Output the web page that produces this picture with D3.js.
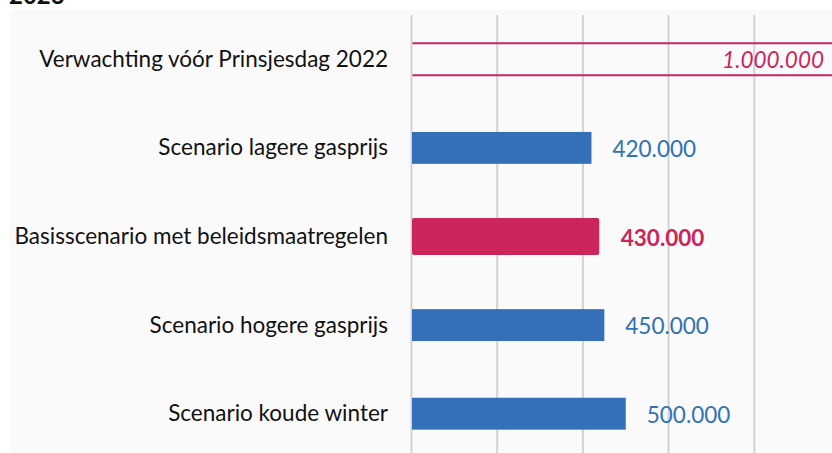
<!DOCTYPE html>
<html lang="nl">
  <head>
    <meta charset="utf-8">
    <title>Scenario's 2023</title>
    <script src="https://cdn.jsdelivr.net/npm/d3@7"></script>
    <style>
      body { margin: 0; background: #fff; }
      svg { display: block; font-family: Lato, "Open Sans", sans-serif; }
    </style>
  </head>
  <body>
    <script>
      // data
      var categories = ["Verwachting vóór Prinsjesdag 2022", "Scenario lagere gasprijs",
                        "Basisscenario met beleidsmaatregelen", "Scenario hogere gasprijs",
                        "Scenario koude winter"];
      var values = [1000000, 420000, 430000, 450000, 500000];
      var labels = ["1.000.000", "420.000", "430.000", "450.000", "500.000"];
      var kinds = ["outline", "blue", "highlight", "blue", "blue"];
      var gridTicks = [0, 200000, 400000, 600000, 800000, 1000000];

      var W = 832, H = 453;
      var blue = "#3470b7", magenta = "#cb255c";

      var svg = d3.select("body").append("svg")
                  .attr("width", W)
                  .attr("height", H);

      // panel background
      svg.append("rect")
         .attr("x", 10).attr("y", 10)
         .attr("width", W - 10).attr("height", H - 10)
         .attr("fill", "#fafafa");

      // title, cut off at the top like in the source
      svg.append("text")
         .attr("x", 9).attr("y", 4)
         .attr("font-size", 24).attr("font-weight", "bold")
         .attr("fill", "#111")
         .text("2023");

      var x = d3.scaleLinear().domain([0, 1000000]).range([411.5, 840]);
      var y = d3.scaleBand().domain(categories).range([15, 458]).paddingInner(0.64).paddingOuter(0.32);

      // gridlines
      svg.selectAll("line.grid")
         .data(gridTicks)
         .enter().append("line")
         .attr("class", "grid")
         .attr("x1", function(d) { return x(d); })
         .attr("x2", function(d) { return x(d); })
         .attr("y1", 15).attr("y2", H)
         .attr("stroke", "#d2d2d2")
         .attr("stroke-width", 2);

      var rows = categories.map(function(c, i) {
        return { cat: c, value: values[i], label: labels[i], kind: kinds[i] };
      });
      var solid = rows.filter(function(d) { return d.kind != "outline"; });
      var outline = rows.filter(function(d) { return d.kind == "outline"; });

      // filled bars (highlighted one drawn a bit bigger)
      svg.selectAll("rect.bar")
         .data(solid)
         .enter().append("rect")
         .attr("class", "bar")
         .attr("x", x(0) + 0.5)
         .attr("y", function(d) { return y(d.cat) - (d.kind == "highlight" ? 2.5 : 0); })
         .attr("width", function(d) { return x(d.value) - x(0) - 0.5 + (d.kind == "highlight" ? 3.5 : 0); })
         .attr("height", function(d) { return y.bandwidth() + (d.kind == "highlight" ? 5 : 0); })
         .attr("rx", function(d) { return d.kind == "highlight" ? 2 : 0; })
         .attr("fill", function(d) { return d.kind == "highlight" ? magenta : blue; });

      // old expectation: only top and bottom edges of the bar
      outline.forEach(function(d) {
        [y(d.cat), y(d.cat) + y.bandwidth()].forEach(function(yy) {
          svg.append("line")
             .attr("x1", x(0) + 1).attr("x2", x(d.value))
             .attr("y1", yy).attr("y2", yy)
             .attr("stroke", magenta)
             .attr("stroke-width", 2);
        });
      });

      // category labels
      svg.selectAll("text.cat")
         .data(rows)
         .enter().append("text")
         .attr("class", "cat")
         .attr("x", 388)
         .attr("y", function(d) { return y(d.cat) + y.bandwidth() / 2 + 7.5; })
         .attr("text-anchor", "end")
         .attr("font-size", 22.5)
         .attr("fill", "#111")
         .text(function(d) { return d.cat; });

      // value labels
      svg.selectAll("text.val")
         .data(rows)
         .enter().append("text")
         .attr("class", "val")
         .attr("x", function(d) { return d.kind == "outline" ? 824 : x(d.value) + (d.kind == "highlight" ? 25 : 21); })
         .attr("y", function(d) { return y(d.cat) + y.bandwidth() / 2 + 9; })
         .attr("text-anchor", function(d) { return d.kind == "outline" ? "end" : "start"; })
         .attr("font-size", 22.5)
         .attr("font-style", function(d) { return d.kind == "outline" ? "italic" : "normal"; })
         .attr("font-weight", function(d) { return d.kind == "highlight" ? "bold" : "normal"; })
         .attr("fill", function(d) { return d.kind == "blue" ? "#2f72b5" : magenta; })
         .text(function(d) { return d.label; });
    </script>
  </body>
</html>
